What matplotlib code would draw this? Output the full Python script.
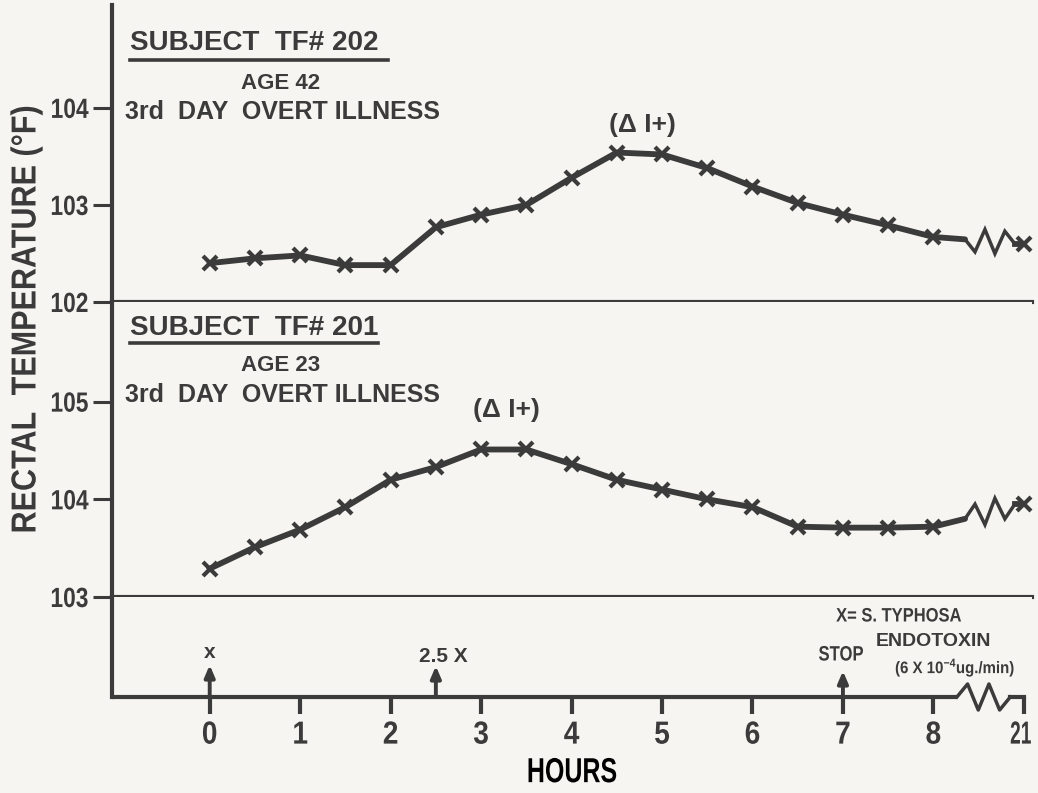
import numpy as np
import matplotlib.pyplot as plt
import matplotlib.patheffects as pe
from matplotlib.transforms import Affine2D

# reading times (h); the 21 h reading sits one step past 8 h, after the axis break
hours = [0, 0.5, 1, 1.5, 2, 2.5, 3, 3.5, 4, 4.5, 5, 5.5, 6, 6.5, 7, 7.5, 8]
late_hour = 21
late_pos = 9

# rectal temperature (deg F)
temp_202 = [102.40, 102.45, 102.48, 102.38, 102.38, 102.77, 102.90, 103.00, 103.28,
            103.54, 103.52, 103.38, 103.19, 103.02, 102.90, 102.79, 102.67]
late_202 = 102.60
temp_201 = [103.29, 103.51, 103.69, 103.92, 104.20, 104.33, 104.51, 104.51, 104.36,
            104.20, 104.10, 104.00, 103.92, 103.72, 103.71, 103.71, 103.72]
late_201 = 103.95

tick_pos = [0, 1, 2, 3, 4, 5, 6, 7, 8, late_pos]
tick_labels = ["0", "1", "2", "3", "4", "5", "6", "7", "8", str(late_hour)]

dose_hours = [0, 2.5, 7]
dose_labels = ["x", "2.5 X", "STOP"]

INK = "#3b3b3b"
BG = "#f6f5f1"

plt.rcParams["font.family"] = ["Liberation Sans", "DejaVu Sans"]
plt.rcParams["font.weight"] = "bold"
plt.rcParams["axes.labelweight"] = "bold"
plt.rcParams["mathtext.fontset"] = "custom"
plt.rcParams["mathtext.rm"] = "Liberation Sans:bold"
plt.rcParams["text.color"] = INK


class Condensed(pe.AbstractPathEffect):
    """Squeeze glyphs horizontally about their own centre (stencil-style lettering)."""

    def __init__(self, sx, offset=(0, 0)):
        super().__init__(offset)
        self._sx = sx

    def draw_path(self, renderer, gc, tpath, affine, rgbFace=None):
        ext = tpath.get_extents()
        cx = (ext.x0 + ext.x1) / 2
        squeeze = Affine2D().translate(-cx, 0).scale(self._sx, 1).translate(cx, 0)
        renderer.draw_path(gc, tpath, squeeze + affine + self._offset_transform(renderer),
                           rgbFace)


def narrow(sx, offset=(0, 0)):
    return [Condensed(sx, offset)]


fig = plt.figure(figsize=(10.38, 7.93), dpi=100, facecolor=BG)

left, width = 112 / 1038, 920 / 1038
ax_top = fig.add_axes([left, 1 - 302 / 793, width, 297 / 793])
ax_bot = fig.add_axes([left, 1 - 597 / 793, width, 295 / 793])
ax_dose = fig.add_axes([left, 1 - 697 / 793, width, 100 / 793])

xlim = (-1.08, 9.09)
for ax in (ax_top, ax_bot, ax_dose):
    ax.set_facecolor(BG)
    ax.set_xlim(*xlim)
    for side in ("top", "right"):
        ax.spines[side].set_visible(False)
    for side in ("left", "bottom"):
        ax.spines[side].set_color(INK)
        ax.spines[side].set_linewidth(3)
    ax.tick_params(colors=INK, width=2.2, length=11, pad=3)

ax_top.set_ylim(102, 105.06)
ax_bot.set_ylim(103, 106.02)
ax_dose.set_ylim(0, 1)


def zigzag(x0, x1, y0, y1, amp, n=5, start_up=False):
    # axis-break squiggle between (x0, y0) and (x1, y1)
    xs = np.linspace(x0, x1, n + 2)
    ys = np.linspace(y0, y1, n + 2)
    sign = 1 if start_up else -1
    for i in range(1, n + 1):
        ys[i] += sign * amp
        sign = -sign
    return xs, ys


def draw_series(ax, temps, late, start_up):
    ax.plot(hours, temps, color=INK, lw=4.2, marker="x", ms=10, mew=3,
            solid_joinstyle="round")
    # short run toward the break, squiggle, then the 21 h reading
    x_break = 8.35
    y_break = temps[-1] + (late - temps[-1]) * (x_break - hours[-1]) / (late_pos - hours[-1])
    ax.plot([hours[-1], x_break], [temps[-1], y_break], color=INK, lw=4.2,
            solid_capstyle="round")
    zx, zy = zigzag(x_break, late_pos - 0.1, y_break, late, 0.12, n=4, start_up=start_up)
    ax.plot(zx, zy, color=INK, lw=2.5, solid_joinstyle="miter")
    ax.plot([late_pos - 0.1, late_pos], [late, late], color=INK, lw=4.2)
    ax.plot([late_pos], [late], color=INK, marker="x", ms=10, mew=3, clip_on=False)


draw_series(ax_top, temp_202, late_202, start_up=False)
draw_series(ax_bot, temp_201, late_201, start_up=True)

# y axes
ax_top.set_yticks([102, 103, 104])
ax_top.set_yticklabels(["102", "103", "104"], size=20)
ax_bot.set_yticks([103, 104, 105])
ax_bot.set_yticklabels(["103", "104", "105"], size=20)
ax_top.set_xticks([])
ax_bot.set_xticks([])
ax_dose.set_yticks([])
for ax in (ax_top, ax_bot):
    ax.tick_params(axis="y", length=14, pad=0)
    for t in ax.get_yticklabels():
        t.set_path_effects(narrow(0.82))

# subject captions
captions = [
    (ax_top, "SUBJECT  TF# 202", "AGE 42", (0.872, 0.815, 0.737, 0.640), 0.300),
    (ax_bot, "SUBJECT  TF# 201", "AGE 23", (0.912, 0.861, 0.786, 0.685), 0.289),
]
for ax, subj, age, (y_s, y_u, y_a, y_d), u_end in captions:
    ax.text(0.02, y_s, subj, transform=ax.transAxes, fontsize=20,
            va="center", ha="left", color=INK)
    ax.plot([0.02, u_end], [y_u, y_u], transform=ax.transAxes, color=INK, lw=2.6)
    ax.text(0.183, y_a, age, transform=ax.transAxes, fontsize=16,
            va="center", ha="center", color=INK)
    ax.text(0.014, y_d, "3rd  DAY  OVERT ILLNESS", transform=ax.transAxes,
            fontsize=18, va="center", ha="left", color=INK)

# peak markers
ax_top.text(4.78, 103.82, "(Δ I+)", fontsize=19, ha="center", va="center", color=INK)
ax_bot.text(3.28, 104.91, "(Δ I+)", fontsize=19, ha="center", va="center", color=INK)

# dosing strip: baseline with break
ax_dose.spines["bottom"].set_visible(False)
ax_dose.plot([xlim[0], 8.26], [0, 0], color=INK, lw=3, clip_on=False,
             solid_capstyle="butt")
bx, by = zigzag(8.26, 8.85, 0, 0, 0.13, n=4, start_up=True)
ax_dose.plot(bx, by, color=INK, lw=2.5, clip_on=False)
ax_dose.plot([8.85, late_pos], [0, 0], color=INK, lw=3, clip_on=False)

ax_dose.set_xticks(tick_pos)
ax_dose.set_xticklabels(tick_labels, size=23)
ax_dose.tick_params(axis="x", length=12, width=3, pad=5)
xlabels = ax_dose.get_xticklabels()
for t in xlabels[:-1]:
    t.set_path_effects(narrow(0.88))
# last label kept inside the figure edge, nudged back under its tick
xlabels[-1].set_horizontalalignment("right")
xlabels[-1].set_path_effects(narrow(0.6, offset=(10.5, 0)))
ax_dose.set_xlabel("HOURS", size=25, labelpad=4, path_effects=narrow(0.72))

arrow_tops = [0.32, 0.31, 0.26]
label_y = [0.44, 0.40, 0.42]
label_dx = [0, 0.08, -0.02]
for h, top, lab, ly, dx in zip(dose_hours, arrow_tops, dose_labels, label_y, label_dx):
    ax_dose.annotate("", xy=(h, top), xytext=(h, 0),
                     arrowprops=dict(arrowstyle="-|>,head_length=0.7,head_width=0.3",
                                     lw=2.8, color=INK, shrinkA=0, shrinkB=0))
    ax_dose.text(h + dx, ly, lab, fontsize=15, ha="center", va="center", color=INK,
                 path_effects=narrow(0.8) if lab == "STOP" else None)

ax_dose.text(7.62, 0.80, "X= S. TYPHOSA", fontsize=14, ha="center", va="center",
             color=INK, path_effects=narrow(0.85))
ax_dose.text(8.0, 0.55, "ENDOTOXIN", fontsize=14, ha="center", va="center", color=INK)
ax_dose.text(8.24, 0.30, r"(6 X 10$^{-4}$ug./min)", fontsize=12,
             ha="center", va="center", color=INK, path_effects=narrow(0.9))

fig.text(26 / 1038, 1 - 319 / 793, "RECTAL  TEMPERATURE (°F)", rotation=90,
         fontsize=25, ha="center", va="center", color=INK, path_effects=narrow(0.88))

fig.savefig("out.png", dpi=100, facecolor=BG)
